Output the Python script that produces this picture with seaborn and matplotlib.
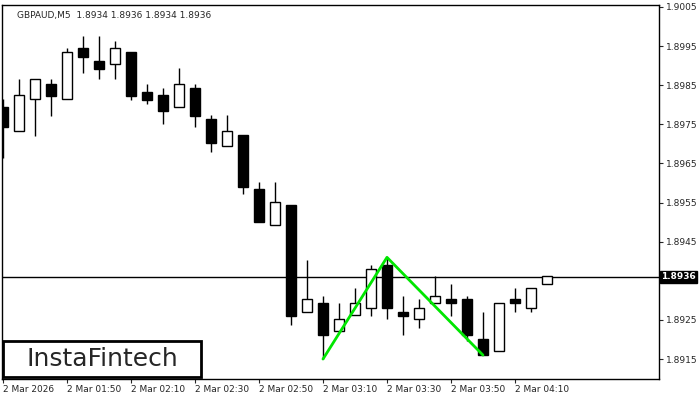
import matplotlib
matplotlib.use("Agg")
import matplotlib.pyplot as plt
from matplotlib.patches import Rectangle
import seaborn as sns
import numpy as np

# GBPAUD M5 candles, 2 Mar 2026 from 01:30
opens = [1.89793, 1.89734, 1.89814, 1.89854, 1.89814, 1.89946, 1.89913, 1.89905, 1.89935, 1.89833,
         1.89825, 1.89793, 1.89844, 1.89763, 1.89694, 1.89723, 1.89584, 1.89493, 1.89544, 1.89271,
         1.89292, 1.89222, 1.89263, 1.89281, 1.89391, 1.89271, 1.89252, 1.89292, 1.89303, 1.89303,
         1.89201, 1.89171, 1.89303, 1.89281, 1.89343]
highs = [1.89814, 1.89865, 1.89865, 1.89865, 1.89946, 1.89975, 1.89975, 1.89964, 1.89935, 1.89854,
         1.89844, 1.89895, 1.89854, 1.89774, 1.89774, 1.89723, 1.89603, 1.89603, 1.89544, 1.89402,
         1.89311, 1.89292, 1.89332, 1.89391, 1.89410, 1.89311, 1.89303, 1.89362, 1.89343, 1.89311,
         1.89271, 1.89292, 1.89332, 1.89332, 1.89362]
lows = [1.89664, 1.89734, 1.89721, 1.89771, 1.89814, 1.89881, 1.89865, 1.89865, 1.89812, 1.89801,
        1.89750, 1.89793, 1.89742, 1.89680, 1.89694, 1.89571, 1.89501, 1.89493, 1.89238, 1.89271,
        1.89150, 1.89222, 1.89263, 1.89260, 1.89252, 1.89212, 1.89230, 1.89292, 1.89260, 1.89196,
        1.89161, 1.89171, 1.89271, 1.89271, 1.89343]
closes = [1.89742, 1.89825, 1.89865, 1.89822, 1.89935, 1.89921, 1.89892, 1.89946, 1.89822, 1.89812,
          1.89785, 1.89854, 1.89771, 1.89702, 1.89734, 1.89589, 1.89501, 1.89552, 1.89260, 1.89303,
          1.89212, 1.89252, 1.89292, 1.89380, 1.89281, 1.89260, 1.89281, 1.89311, 1.89292, 1.89212,
          1.89161, 1.89292, 1.89292, 1.89332, 1.89362]

time_labels = ["2 Mar 2026", "2 Mar 01:50", "2 Mar 02:10", "2 Mar 02:30", "2 Mar 02:50",
               "2 Mar 03:10", "2 Mar 03:30", "2 Mar 03:50", "2 Mar 04:10"]
price_ticks = [1.8915, 1.8925, 1.8935, 1.8945, 1.8955, 1.8965, 1.8975, 1.8985, 1.8995, 1.9005]

# double top pattern line
pattern_x = [20, 24, 30]
pattern_y = [1.8915, 1.8941, 1.8916]
last_price = 1.8936

sns.set_style("white")
plt.rcParams['font.family'] = ['DejaVu Sans']

fig = plt.figure(figsize=(7, 4), dpi=100)
ax = fig.add_axes([2 / 700, 21 / 400, 657 / 700, 374 / 400])

x = np.arange(len(opens))
o, h, l, c = map(np.array, (opens, highs, lows, closes))
ax.vlines(x, l, h, color="black", lw=1, zorder=1)
up = c >= o
body_bottom = np.minimum(o, c)
body_h = np.maximum(np.abs(c - o), 0.00003)
ax.bar(x[up], body_h[up], bottom=body_bottom[up], width=0.62,
       color="white", edgecolor="black", lw=1, zorder=2)
ax.bar(x[~up], body_h[~up], bottom=body_bottom[~up], width=0.62,
       color="black", edgecolor="black", lw=1, zorder=2)

sns.lineplot(x=pattern_x, y=pattern_y, color="#00e600", lw=2, ax=ax, zorder=3)
ax.axhline(last_price, color="black", lw=1, zorder=0)

ax.set_xlim(-0.06, 41.0)
ax.set_ylim(1.89099, 1.90055)

ax.yaxis.tick_right()
ax.set_yticks(price_ticks)
ax.set_yticklabels([f"{t:.4f}" for t in price_ticks], fontsize=6.5)
ax.tick_params(axis="y", direction="out", length=3, width=0.8, pad=2, right=True)

ax.set_xticks(np.arange(0, 36, 4))
ax.set_xticklabels(time_labels, fontsize=6.5, ha="left")
ax.tick_params(axis="x", direction="out", length=3, width=0.8, pad=1, bottom=True)

for s in ax.spines.values():
    s.set_color("black")
    s.set_linewidth(1)

ax.text(1.003, last_price, f"{last_price:.4f}", transform=ax.get_yaxis_transform(),
        fontsize=6.5, color="white", va="center", ha="left", fontweight="bold",
        bbox=dict(boxstyle="square,pad=0.15", fc="black", ec="black"))

ax.text(0.023, 0.985, "GBPAUD,M5  1.8934 1.8936 1.8934 1.8936", transform=ax.transAxes,
        fontsize=6.5, va="top", ha="left")

fig.patches.append(Rectangle((3 / 700, 23 / 400), 198 / 700, 36 / 400, transform=fig.transFigure,
                             fc="white", ec="black", lw=2, zorder=10))
fig.text(102 / 700, 41 / 400, "InstaFintech", fontsize=18, ha="center", va="center", zorder=11)

fig.savefig("out.png", dpi=100)
